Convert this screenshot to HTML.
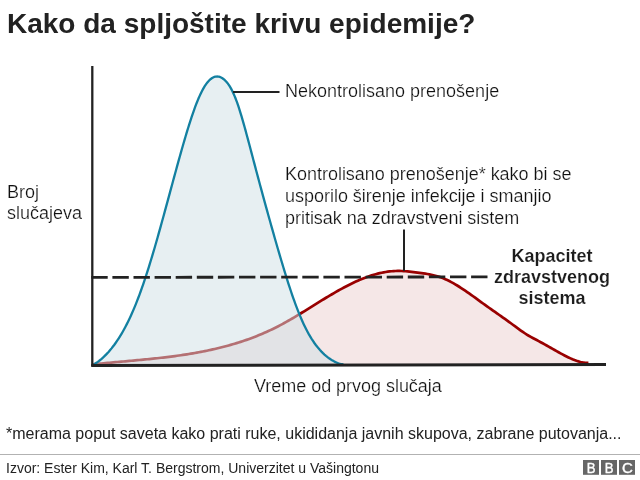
<!DOCTYPE html>
<html><head><meta charset="utf-8">
<style>
html,body{margin:0;padding:0;background:#fff;}
body{width:640px;height:480px;overflow:hidden;position:relative;font-family:"Liberation Sans",sans-serif;color:#222;}
.t{position:absolute;white-space:nowrap;line-height:1;will-change:transform;}
#title{left:7px;top:10px;font-size:28px;font-weight:bold;color:#222;}
.lbl{font-size:18px;color:#101010;-webkit-text-stroke:0.22px #fff;transform:scaleY(1.04);transform-origin:0 84.65%;}
svg{position:absolute;left:0;top:0;will-change:transform;}
</style></head><body>
<svg width="640" height="480" viewBox="0 0 640 480">
<path id="redfill" d="M93.50,364.30 L95.49,364.10 L97.48,363.90 L99.46,363.70 L101.45,363.50 L103.44,363.31 L105.43,363.12 L107.41,362.93 L109.40,362.74 L111.39,362.56 L113.38,362.38 L115.36,362.19 L117.35,362.01 L119.34,361.83 L121.33,361.66 L123.31,361.48 L125.30,361.30 L127.29,361.12 L129.28,360.94 L131.26,360.76 L133.25,360.58 L135.24,360.40 L137.23,360.21 L139.21,360.02 L141.20,359.84 L143.19,359.65 L145.18,359.45 L147.16,359.26 L149.15,359.06 L151.14,358.85 L153.13,358.65 L155.11,358.44 L157.10,358.22 L159.09,358.00 L161.08,357.78 L163.06,357.55 L165.05,357.32 L167.04,357.08 L169.03,356.83 L171.01,356.58 L173.00,356.32 L174.99,356.06 L176.98,355.78 L178.96,355.50 L180.95,355.22 L182.94,354.92 L184.93,354.62 L186.91,354.31 L188.90,353.99 L190.89,353.67 L192.88,353.33 L194.87,352.99 L196.85,352.63 L198.84,352.27 L200.83,351.89 L202.82,351.51 L204.80,351.11 L206.79,350.71 L208.78,350.29 L210.77,349.86 L212.75,349.42 L214.74,348.97 L216.73,348.50 L218.72,348.03 L220.70,347.54 L222.69,347.03 L224.68,346.52 L226.67,345.99 L228.65,345.44 L230.64,344.89 L232.63,344.31 L234.62,343.72 L236.60,343.12 L238.59,342.50 L240.58,341.87 L242.57,341.21 L244.55,340.54 L246.54,339.86 L248.53,339.15 L250.52,338.43 L252.50,337.69 L254.49,336.93 L256.48,336.15 L258.47,335.35 L260.45,334.53 L262.44,333.69 L264.43,332.83 L266.42,331.95 L268.40,331.05 L270.39,330.13 L272.38,329.18 L274.37,328.21 L276.35,327.22 L278.34,326.21 L280.33,325.17 L282.32,324.11 L284.30,323.02 L286.29,321.92 L288.28,320.79 L290.27,319.65 L292.26,318.49 L294.24,317.32 L296.23,316.14 L298.22,314.94 L300.21,313.73 L302.19,312.51 L304.18,311.29 L306.17,310.06 L308.16,308.83 L310.14,307.59 L312.13,306.35 L314.12,305.11 L316.11,303.88 L318.09,302.65 L320.08,301.42 L322.07,300.19 L324.06,298.98 L326.04,297.77 L328.03,296.58 L330.02,295.39 L332.01,294.22 L333.99,293.06 L335.98,291.92 L337.97,290.79 L339.96,289.68 L341.94,288.59 L343.93,287.52 L345.92,286.47 L347.91,285.44 L349.89,284.44 L351.88,283.46 L353.87,282.51 L355.86,281.59 L357.84,280.70 L359.83,279.83 L361.82,279.00 L363.81,278.21 L365.79,277.44 L367.78,276.72 L369.77,276.03 L371.76,275.37 L373.74,274.76 L375.73,274.19 L377.72,273.66 L379.71,273.17 L381.69,272.73 L383.68,272.33 L385.67,271.99 L387.66,271.69 L389.64,271.44 L391.63,271.24 L393.62,271.09 L395.61,271.00 L397.60,270.96 L399.58,270.96 L401.57,271.02 L403.56,271.11 L405.55,271.24 L407.53,271.41 L409.52,271.60 L411.51,271.82 L413.50,272.05 L415.48,272.31 L417.47,272.57 L419.46,272.84 L421.45,273.12 L423.43,273.40 L425.42,273.70 L427.41,274.02 L429.40,274.37 L431.38,274.76 L433.37,275.20 L435.36,275.69 L437.35,276.24 L439.33,276.86 L441.32,277.55 L443.31,278.32 L445.30,279.17 L447.28,280.08 L449.27,281.05 L451.26,282.09 L453.25,283.18 L455.23,284.33 L457.22,285.52 L459.21,286.75 L461.20,288.03 L463.18,289.34 L465.17,290.68 L467.16,292.05 L469.15,293.44 L471.13,294.85 L473.12,296.27 L475.11,297.71 L477.10,299.16 L479.08,300.60 L481.07,302.05 L483.06,303.49 L485.05,304.92 L487.03,306.34 L489.02,307.75 L491.01,309.16 L493.00,310.56 L494.99,311.96 L496.97,313.36 L498.96,314.75 L500.95,316.16 L502.94,317.56 L504.92,318.97 L506.91,320.39 L508.90,321.83 L510.89,323.27 L512.87,324.73 L514.86,326.19 L516.85,327.66 L518.84,329.11 L520.82,330.53 L522.81,331.92 L524.80,333.25 L526.79,334.52 L528.77,335.73 L530.76,336.87 L532.75,337.96 L534.74,339.03 L536.72,340.07 L538.71,341.12 L540.70,342.19 L542.69,343.27 L544.67,344.38 L546.66,345.49 L548.65,346.62 L550.64,347.75 L552.62,348.89 L554.61,350.01 L556.60,351.13 L558.59,352.24 L560.57,353.33 L562.56,354.40 L564.55,355.44 L566.54,356.45 L568.52,357.42 L570.51,358.35 L572.50,359.23 L574.49,360.04 L576.47,360.77 L578.46,361.41 L580.45,361.96 L582.44,362.39 L584.42,362.69 L586.41,362.86 L588.40,362.87 L588.40,364.5 L93.50,364.5 Z" fill="#f5e7e7" stroke="none"/>
<path id="red" d="M93.50,364.30 L95.49,364.10 L97.48,363.90 L99.46,363.70 L101.45,363.50 L103.44,363.31 L105.43,363.12 L107.41,362.93 L109.40,362.74 L111.39,362.56 L113.38,362.38 L115.36,362.19 L117.35,362.01 L119.34,361.83 L121.33,361.66 L123.31,361.48 L125.30,361.30 L127.29,361.12 L129.28,360.94 L131.26,360.76 L133.25,360.58 L135.24,360.40 L137.23,360.21 L139.21,360.02 L141.20,359.84 L143.19,359.65 L145.18,359.45 L147.16,359.26 L149.15,359.06 L151.14,358.85 L153.13,358.65 L155.11,358.44 L157.10,358.22 L159.09,358.00 L161.08,357.78 L163.06,357.55 L165.05,357.32 L167.04,357.08 L169.03,356.83 L171.01,356.58 L173.00,356.32 L174.99,356.06 L176.98,355.78 L178.96,355.50 L180.95,355.22 L182.94,354.92 L184.93,354.62 L186.91,354.31 L188.90,353.99 L190.89,353.67 L192.88,353.33 L194.87,352.99 L196.85,352.63 L198.84,352.27 L200.83,351.89 L202.82,351.51 L204.80,351.11 L206.79,350.71 L208.78,350.29 L210.77,349.86 L212.75,349.42 L214.74,348.97 L216.73,348.50 L218.72,348.03 L220.70,347.54 L222.69,347.03 L224.68,346.52 L226.67,345.99 L228.65,345.44 L230.64,344.89 L232.63,344.31 L234.62,343.72 L236.60,343.12 L238.59,342.50 L240.58,341.87 L242.57,341.21 L244.55,340.54 L246.54,339.86 L248.53,339.15 L250.52,338.43 L252.50,337.69 L254.49,336.93 L256.48,336.15 L258.47,335.35 L260.45,334.53 L262.44,333.69 L264.43,332.83 L266.42,331.95 L268.40,331.05 L270.39,330.13 L272.38,329.18 L274.37,328.21 L276.35,327.22 L278.34,326.21 L280.33,325.17 L282.32,324.11 L284.30,323.02 L286.29,321.92 L288.28,320.79 L290.27,319.65 L292.26,318.49 L294.24,317.32 L296.23,316.14 L298.22,314.94 L300.21,313.73 L302.19,312.51 L304.18,311.29 L306.17,310.06 L308.16,308.83 L310.14,307.59 L312.13,306.35 L314.12,305.11 L316.11,303.88 L318.09,302.65 L320.08,301.42 L322.07,300.19 L324.06,298.98 L326.04,297.77 L328.03,296.58 L330.02,295.39 L332.01,294.22 L333.99,293.06 L335.98,291.92 L337.97,290.79 L339.96,289.68 L341.94,288.59 L343.93,287.52 L345.92,286.47 L347.91,285.44 L349.89,284.44 L351.88,283.46 L353.87,282.51 L355.86,281.59 L357.84,280.70 L359.83,279.83 L361.82,279.00 L363.81,278.21 L365.79,277.44 L367.78,276.72 L369.77,276.03 L371.76,275.37 L373.74,274.76 L375.73,274.19 L377.72,273.66 L379.71,273.17 L381.69,272.73 L383.68,272.33 L385.67,271.99 L387.66,271.69 L389.64,271.44 L391.63,271.24 L393.62,271.09 L395.61,271.00 L397.60,270.96 L399.58,270.96 L401.57,271.02 L403.56,271.11 L405.55,271.24 L407.53,271.41 L409.52,271.60 L411.51,271.82 L413.50,272.05 L415.48,272.31 L417.47,272.57 L419.46,272.84 L421.45,273.12 L423.43,273.40 L425.42,273.70 L427.41,274.02 L429.40,274.37 L431.38,274.76 L433.37,275.20 L435.36,275.69 L437.35,276.24 L439.33,276.86 L441.32,277.55 L443.31,278.32 L445.30,279.17 L447.28,280.08 L449.27,281.05 L451.26,282.09 L453.25,283.18 L455.23,284.33 L457.22,285.52 L459.21,286.75 L461.20,288.03 L463.18,289.34 L465.17,290.68 L467.16,292.05 L469.15,293.44 L471.13,294.85 L473.12,296.27 L475.11,297.71 L477.10,299.16 L479.08,300.60 L481.07,302.05 L483.06,303.49 L485.05,304.92 L487.03,306.34 L489.02,307.75 L491.01,309.16 L493.00,310.56 L494.99,311.96 L496.97,313.36 L498.96,314.75 L500.95,316.16 L502.94,317.56 L504.92,318.97 L506.91,320.39 L508.90,321.83 L510.89,323.27 L512.87,324.73 L514.86,326.19 L516.85,327.66 L518.84,329.11 L520.82,330.53 L522.81,331.92 L524.80,333.25 L526.79,334.52 L528.77,335.73 L530.76,336.87 L532.75,337.96 L534.74,339.03 L536.72,340.07 L538.71,341.12 L540.70,342.19 L542.69,343.27 L544.67,344.38 L546.66,345.49 L548.65,346.62 L550.64,347.75 L552.62,348.89 L554.61,350.01 L556.60,351.13 L558.59,352.24 L560.57,353.33 L562.56,354.40 L564.55,355.44 L566.54,356.45 L568.52,357.42 L570.51,358.35 L572.50,359.23 L574.49,360.04 L576.47,360.77 L578.46,361.41 L580.45,361.96 L582.44,362.39 L584.42,362.69 L586.41,362.86 L588.40,362.87" fill="none" stroke="#990000" stroke-width="2.7"/>
<path id="bluefill" d="M93.67,364.30 L93.84,364.25 L94.16,364.10 L94.64,363.85 L95.25,363.50 L95.98,363.05 L96.82,362.50 L97.75,361.85 L98.76,361.10 L99.84,360.26 L100.99,359.31 L102.19,358.27 L103.44,357.14 L104.73,355.91 L106.05,354.58 L107.40,353.16 L108.77,351.65 L110.15,350.05 L111.55,348.36 L112.95,346.57 L114.36,344.70 L115.76,342.75 L117.17,340.70 L118.57,338.58 L119.97,336.37 L121.36,334.08 L122.73,331.71 L124.10,329.27 L125.46,326.74 L126.80,324.15 L128.14,321.48 L129.46,318.74 L130.76,315.93 L132.05,313.06 L133.33,310.12 L134.59,307.12 L135.84,304.06 L137.08,300.94 L138.31,297.76 L139.52,294.53 L140.72,291.25 L141.91,287.92 L143.09,284.54 L144.25,281.12 L145.41,277.65 L146.56,274.15 L147.69,270.61 L148.82,267.03 L149.94,263.42 L151.05,259.78 L152.16,256.11 L153.26,252.42 L154.35,248.71 L155.43,244.97 L156.51,241.22 L157.59,237.46 L158.65,233.68 L159.71,229.89 L160.77,226.10 L161.82,222.30 L162.87,218.50 L163.91,214.70 L164.95,210.91 L165.98,207.12 L167.00,203.34 L168.03,199.58 L169.04,195.83 L170.05,192.09 L171.06,188.38 L172.06,184.69 L173.06,181.02 L174.05,177.38 L175.03,173.77 L176.01,170.19 L176.98,166.65 L177.95,163.15 L178.91,159.68 L179.87,156.26 L180.82,152.88 L181.76,149.55 L182.70,146.27 L183.63,143.04 L184.55,139.86 L185.47,136.74 L186.39,133.68 L187.29,130.68 L188.20,127.74 L189.09,124.87 L189.98,122.06 L190.87,119.32 L191.75,116.65 L192.63,114.06 L193.51,111.53 L194.38,109.09 L195.25,106.72 L196.11,104.43 L196.97,102.22 L197.84,100.10 L198.70,98.05 L199.56,96.10 L200.42,94.23 L201.28,92.44 L202.14,90.75 L203.00,89.15 L203.87,87.64 L204.73,86.22 L205.60,84.89 L206.47,83.66 L207.35,82.53 L208.23,81.49 L209.11,80.54 L209.99,79.70 L210.88,78.95 L211.76,78.30 L212.66,77.75 L213.55,77.30 L214.44,76.95 L215.33,76.70 L216.22,76.55 L217.10,76.50 L217.94,76.55 L218.81,76.70 L219.70,76.95 L220.61,77.30 L221.52,77.75 L222.45,78.30 L223.37,78.95 L224.29,79.70 L225.20,80.54 L226.11,81.49 L227.01,82.53 L227.90,83.66 L228.77,84.89 L229.64,86.22 L230.50,87.64 L231.34,89.15 L232.17,90.75 L232.99,92.44 L233.80,94.23 L234.61,96.10 L235.40,98.05 L236.19,100.10 L236.98,102.22 L237.75,104.43 L238.53,106.72 L239.31,109.09 L240.08,111.53 L240.85,114.06 L241.63,116.65 L242.41,119.32 L243.20,122.06 L243.99,124.87 L244.79,127.74 L245.60,130.68 L246.41,133.68 L247.24,136.74 L248.07,139.86 L248.92,143.04 L249.78,146.27 L250.64,149.55 L251.52,152.88 L252.42,156.26 L253.32,159.68 L254.24,163.15 L255.17,166.65 L256.11,170.19 L257.06,173.77 L258.03,177.38 L259.00,181.02 L259.99,184.69 L260.99,188.38 L261.99,192.09 L263.01,195.83 L264.03,199.58 L265.06,203.34 L266.10,207.12 L267.15,210.91 L268.20,214.70 L269.26,218.50 L270.32,222.30 L271.39,226.10 L272.46,229.89 L273.53,233.68 L274.60,237.46 L275.68,241.22 L276.76,244.97 L277.84,248.71 L278.92,252.42 L280.01,256.11 L281.09,259.78 L282.18,263.42 L283.27,267.03 L284.36,270.61 L285.45,274.15 L286.54,277.65 L287.63,281.12 L288.73,284.54 L289.84,287.92 L290.94,291.25 L292.06,294.53 L293.18,297.76 L294.30,300.94 L295.44,304.06 L296.58,307.12 L297.74,310.12 L298.90,313.06 L300.08,315.93 L301.28,318.74 L302.49,321.48 L303.71,324.15 L304.96,326.74 L306.22,329.27 L307.50,331.71 L308.80,334.08 L310.13,336.37 L311.47,338.58 L312.84,340.70 L314.22,342.75 L315.63,344.70 L317.06,346.57 L318.51,348.36 L319.98,350.05 L321.47,351.65 L322.97,353.16 L324.48,354.58 L326.00,355.91 L327.52,357.14 L329.04,358.27 L330.56,359.31 L332.07,360.26 L333.55,361.10 L335.01,361.85 L336.43,362.50 L337.81,363.05 L339.13,363.50 L340.37,363.85 L341.53,364.10 L342.59,364.25 L343.54,364.30 L343.54,364.5 L93.67,364.5 Z" fill="rgba(207,223,229,0.5)" stroke="none"/>
<path id="blue" d="M93.67,364.30 L93.84,364.25 L94.16,364.10 L94.64,363.85 L95.25,363.50 L95.98,363.05 L96.82,362.50 L97.75,361.85 L98.76,361.10 L99.84,360.26 L100.99,359.31 L102.19,358.27 L103.44,357.14 L104.73,355.91 L106.05,354.58 L107.40,353.16 L108.77,351.65 L110.15,350.05 L111.55,348.36 L112.95,346.57 L114.36,344.70 L115.76,342.75 L117.17,340.70 L118.57,338.58 L119.97,336.37 L121.36,334.08 L122.73,331.71 L124.10,329.27 L125.46,326.74 L126.80,324.15 L128.14,321.48 L129.46,318.74 L130.76,315.93 L132.05,313.06 L133.33,310.12 L134.59,307.12 L135.84,304.06 L137.08,300.94 L138.31,297.76 L139.52,294.53 L140.72,291.25 L141.91,287.92 L143.09,284.54 L144.25,281.12 L145.41,277.65 L146.56,274.15 L147.69,270.61 L148.82,267.03 L149.94,263.42 L151.05,259.78 L152.16,256.11 L153.26,252.42 L154.35,248.71 L155.43,244.97 L156.51,241.22 L157.59,237.46 L158.65,233.68 L159.71,229.89 L160.77,226.10 L161.82,222.30 L162.87,218.50 L163.91,214.70 L164.95,210.91 L165.98,207.12 L167.00,203.34 L168.03,199.58 L169.04,195.83 L170.05,192.09 L171.06,188.38 L172.06,184.69 L173.06,181.02 L174.05,177.38 L175.03,173.77 L176.01,170.19 L176.98,166.65 L177.95,163.15 L178.91,159.68 L179.87,156.26 L180.82,152.88 L181.76,149.55 L182.70,146.27 L183.63,143.04 L184.55,139.86 L185.47,136.74 L186.39,133.68 L187.29,130.68 L188.20,127.74 L189.09,124.87 L189.98,122.06 L190.87,119.32 L191.75,116.65 L192.63,114.06 L193.51,111.53 L194.38,109.09 L195.25,106.72 L196.11,104.43 L196.97,102.22 L197.84,100.10 L198.70,98.05 L199.56,96.10 L200.42,94.23 L201.28,92.44 L202.14,90.75 L203.00,89.15 L203.87,87.64 L204.73,86.22 L205.60,84.89 L206.47,83.66 L207.35,82.53 L208.23,81.49 L209.11,80.54 L209.99,79.70 L210.88,78.95 L211.76,78.30 L212.66,77.75 L213.55,77.30 L214.44,76.95 L215.33,76.70 L216.22,76.55 L217.10,76.50 L217.94,76.55 L218.81,76.70 L219.70,76.95 L220.61,77.30 L221.52,77.75 L222.45,78.30 L223.37,78.95 L224.29,79.70 L225.20,80.54 L226.11,81.49 L227.01,82.53 L227.90,83.66 L228.77,84.89 L229.64,86.22 L230.50,87.64 L231.34,89.15 L232.17,90.75 L232.99,92.44 L233.80,94.23 L234.61,96.10 L235.40,98.05 L236.19,100.10 L236.98,102.22 L237.75,104.43 L238.53,106.72 L239.31,109.09 L240.08,111.53 L240.85,114.06 L241.63,116.65 L242.41,119.32 L243.20,122.06 L243.99,124.87 L244.79,127.74 L245.60,130.68 L246.41,133.68 L247.24,136.74 L248.07,139.86 L248.92,143.04 L249.78,146.27 L250.64,149.55 L251.52,152.88 L252.42,156.26 L253.32,159.68 L254.24,163.15 L255.17,166.65 L256.11,170.19 L257.06,173.77 L258.03,177.38 L259.00,181.02 L259.99,184.69 L260.99,188.38 L261.99,192.09 L263.01,195.83 L264.03,199.58 L265.06,203.34 L266.10,207.12 L267.15,210.91 L268.20,214.70 L269.26,218.50 L270.32,222.30 L271.39,226.10 L272.46,229.89 L273.53,233.68 L274.60,237.46 L275.68,241.22 L276.76,244.97 L277.84,248.71 L278.92,252.42 L280.01,256.11 L281.09,259.78 L282.18,263.42 L283.27,267.03 L284.36,270.61 L285.45,274.15 L286.54,277.65 L287.63,281.12 L288.73,284.54 L289.84,287.92 L290.94,291.25 L292.06,294.53 L293.18,297.76 L294.30,300.94 L295.44,304.06 L296.58,307.12 L297.74,310.12 L298.90,313.06 L300.08,315.93 L301.28,318.74 L302.49,321.48 L303.71,324.15 L304.96,326.74 L306.22,329.27 L307.50,331.71 L308.80,334.08 L310.13,336.37 L311.47,338.58 L312.84,340.70 L314.22,342.75 L315.63,344.70 L317.06,346.57 L318.51,348.36 L319.98,350.05 L321.47,351.65 L322.97,353.16 L324.48,354.58 L326.00,355.91 L327.52,357.14 L329.04,358.27 L330.56,359.31 L332.07,360.26 L333.55,361.10 L335.01,361.85 L336.43,362.50 L337.81,363.05 L339.13,363.50 L340.37,363.85 L341.53,364.10 L342.59,364.25 L343.54,364.30" fill="none" stroke="#1380a1" stroke-width="2.3"/>
<line x1="91.3" y1="277.4" x2="487.8" y2="276.9" stroke="#222" stroke-width="2.8" stroke-dasharray="16.4 4.7"/>
<line x1="92.3" y1="66" x2="92.3" y2="366" stroke="#222" stroke-width="2.3"/>
<line x1="91.2" y1="365.4" x2="606" y2="364.6" stroke="#222" stroke-width="3"/>
<line x1="233" y1="92" x2="279.5" y2="92" stroke="#222" stroke-width="2"/>
<line x1="404" y1="229.5" x2="404" y2="271" stroke="#222" stroke-width="2"/>
</svg>
<div id="title" class="t">Kako da spljoštite krivu epidemije?</div>
<div class="t lbl" id="l1" style="left:284.5px;top:82.2px;">Nekontrolisano prenošenje</div>
<div class="t lbl" id="l2a" style="left:285px;top:165.1px;letter-spacing:-0.02px;">Kontrolisano prenošenje* kako bi se</div>
<div class="t lbl" id="l2b" style="left:285px;top:186.6px;letter-spacing:-0.02px;">usporilo širenje infekcije i smanjio</div>
<div class="t lbl" id="l2c" style="left:285px;top:208.7px;letter-spacing:-0.03px;">pritisak na zdravstveni sistem</div>
<div class="t lbl" id="l3a" style="left:6.5px;top:183px;">Broj</div>
<div class="t lbl" id="l3b" style="left:6.5px;top:203.5px;">slučajeva</div>
<div class="t lbl" id="l4" style="left:482.1px;top:245.5px;line-height:20.9px;white-space:pre;font-weight:bold;text-align:center;width:140px;color:#1c1c1c;-webkit-text-stroke:0.15px #fff;transform:none;">Kapacitet
zdravstvenog
sistema</div>
<div class="t lbl" id="l5" style="left:253.8px;top:377.3px;letter-spacing:-0.03px;">Vreme od prvog slučaja</div>
<div class="t" id="foot" style="left:6px;top:425.5px;font-size:16px;color:#222;">*merama poput saveta kako prati ruke, ukididanja javnih skupova, zabrane putovanja...</div>
<div style="position:absolute;left:0;top:454.1px;width:640px;height:1.3px;background:#b2b2b2;will-change:transform;"></div>
<div class="t" id="src" style="left:5.5px;top:460.5px;font-size:14px;color:#222;">Izvor: Ester Kim, Karl T. Bergstrom, Univerzitet u Vašingtonu</div>
<svg id="bbc" width="56" height="16" viewBox="0 0 56 16" style="left:583px;top:460px;will-change:transform;">
<rect x="0" y="0" width="16" height="14.8" fill="#666"/><rect x="18" y="0" width="16" height="14.8" fill="#666"/><rect x="36" y="0" width="16" height="14.8" fill="#666"/>
<g font-family="Liberation Sans" font-size="15" fill="#fff" stroke="#fff" stroke-width="0.4" text-anchor="middle">
<text transform="translate(8.2,12.6) scale(0.88,1)">B</text>
<text transform="translate(26.2,12.6) scale(0.88,1)">B</text>
<text transform="translate(44.3,12.6) scale(1,1)">C</text>
</g>
</svg>
</body></html>
